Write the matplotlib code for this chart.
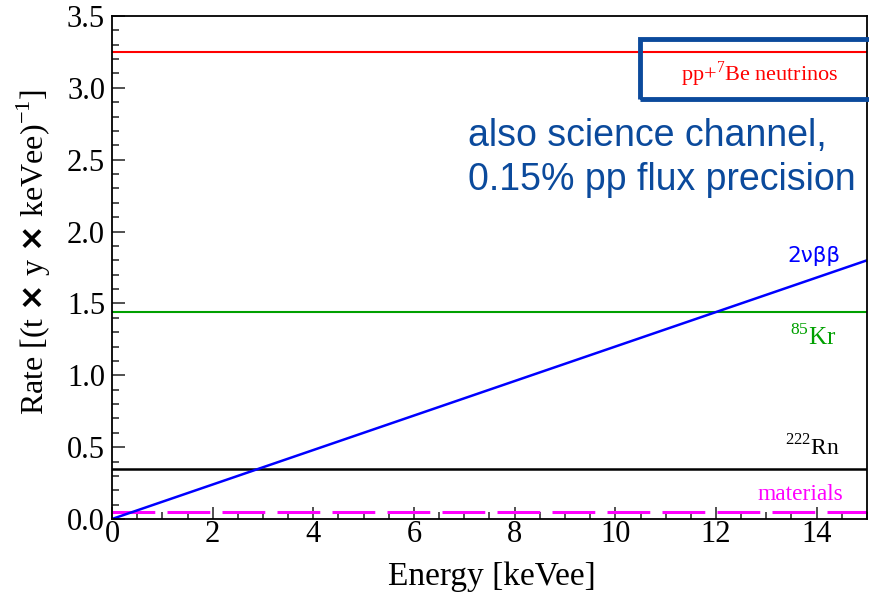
import numpy as np
import matplotlib.pyplot as plt
from matplotlib.ticker import MultipleLocator
from matplotlib.patches import Rectangle

# background rates vs energy
energy = [0, 15]
pp_be7 = [3.25, 3.25]
kr85 = [1.44, 1.44]
rn222 = [0.35, 0.35]
materials = [0.05, 0.05]
two_nu_bb = [0.0, 1.8]

plt.rcParams['font.family'] = ['Liberation Serif', 'DejaVu Serif']

fig = plt.figure(figsize=(8.7, 5.96), dpi=100)
ax = fig.add_axes([112 / 870, 77 / 596, 755 / 870, 503 / 596])

ax.plot(energy, pp_be7, color='#ff0000', lw=1.5)
ax.plot(energy, kr85, color='#00a000', lw=1.5)
ax.plot(energy, rn222, color='black', lw=1.8)
ax.plot(energy, materials, color='#ff00ff', lw=2.2, dashes=(14, 4))
ax.plot(energy, two_nu_bb, color='#0000ff', lw=1.8)

ax.set_xlim(0, 15)
ax.set_ylim(0, 3.5)
ax.xaxis.set_major_locator(MultipleLocator(2))
ax.xaxis.set_minor_locator(MultipleLocator(0.5))
ax.yaxis.set_major_locator(MultipleLocator(0.5))
ax.yaxis.set_minor_locator(MultipleLocator(0.1))
ax.xaxis.set_major_formatter(plt.FuncFormatter(lambda v, p: '%d' % v))
ax.yaxis.set_major_formatter(plt.FuncFormatter(lambda v, p: '%.1f' % v))
ax.tick_params(which='both', direction='in', top=False, right=False,
               labelsize=22, width=1.2, color='#333333')
ax.tick_params(which='major', length=9)
ax.tick_params(which='minor', length=5)
ax.tick_params(axis='x', pad=1)
ax.tick_params(axis='y', pad=5)
for s in ax.spines.values():
    s.set_linewidth(1.3)

ax.set_xlabel('Energy [keVee]', fontsize=24)
ax.xaxis.set_label_coords(0.503, -0.085)
ax.xaxis.label.set_va('top')
ax.set_ylabel(r'Rate [(t $\mathbf{\times}$ y $\mathbf{\times}$ keVee)$^{\mathregular{-1}}$]',
              fontsize=23)
ax.yaxis.set_label_coords(-0.078, 0.53)

# curve labels
ax.text(11.3, 3.05, r'pp+$^{\mathregular{7}}$Be neutrinos', color='#ff0000', fontsize=16)
ax.text(13.41, 1.79, '2νββ', color='#0000ff', fontsize=15.5, family='DejaVu Sans')
ax.text(13.47, 1.21, r'$^{\mathregular{85}}$Kr', color='#00a000', fontsize=18)
ax.text(13.37, 0.445, r'$^{\mathregular{222}}$Rn', color='black', fontsize=17)
ax.text(12.82, 0.13, 'materials', color='#ff00ff', fontsize=16.8)

ax.text(468 / 870, 1 - 158 / 596, 'also science channel,\n0.15% pp flux precision',
        transform=fig.transFigure, color='#0b4a9c', fontsize=27,
        family='Liberation Sans', linespacing=1.28, va='center', ha='left')

fig.add_artist(Rectangle((640 / 870, 1 - 99 / 596), 240 / 870, 60 / 596,
                         transform=fig.transFigure, fill=False,
                         edgecolor='#0b4a9c', lw=3.5, clip_on=False))

fig.savefig('out.png', dpi=100)
